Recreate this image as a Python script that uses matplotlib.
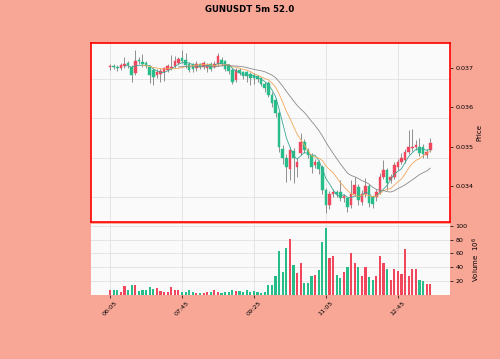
import numpy as np
import pandas as pd
import matplotlib
matplotlib.use('Agg')
import matplotlib.pyplot as plt

# 5m candles, 06:05 .. 13:30
opens = [0.03704, 0.03706, 0.03704, 0.03702, 0.03705, 0.03714, 0.03704, 0.03688, 0.03722, 0.03716,
         0.03714, 0.03703, 0.03696, 0.03684, 0.03686, 0.03690, 0.03696, 0.03700, 0.03706, 0.03714,
         0.03726, 0.03722, 0.03712, 0.03710, 0.03700, 0.03710, 0.03703, 0.03702, 0.03710, 0.03704,
         0.03711, 0.03722, 0.03719, 0.03708, 0.03696, 0.03670, 0.03696, 0.03690, 0.03690, 0.03685,
         0.03683, 0.03680, 0.03675, 0.03660, 0.03662, 0.03632, 0.03618, 0.03586, 0.03495, 0.03470,
         0.03444, 0.03490, 0.03448, 0.03483, 0.03511, 0.03491, 0.03478, 0.03453, 0.03461, 0.03448,
         0.03389, 0.03350, 0.03380, 0.03384, 0.03384, 0.03368, 0.03368, 0.03350, 0.03380, 0.03397,
         0.03358, 0.03378, 0.03398, 0.03370, 0.03372, 0.03385, 0.03423, 0.03440, 0.03414, 0.03423,
         0.03448, 0.03461, 0.03465, 0.03487, 0.03496, 0.03498, 0.03500, 0.03498, 0.03478, 0.03491]
closes = [0.03706, 0.03704, 0.03702, 0.03708, 0.03712, 0.03708, 0.03683, 0.03719, 0.03718, 0.03711,
          0.03706, 0.03682, 0.03678, 0.03692, 0.03694, 0.03700, 0.03705, 0.03703, 0.03720, 0.03724,
          0.03720, 0.03708, 0.03696, 0.03699, 0.03712, 0.03704, 0.03714, 0.03709, 0.03699, 0.03712,
          0.03731, 0.03712, 0.03699, 0.03694, 0.03665, 0.03696, 0.03688, 0.03680, 0.03680, 0.03675,
          0.03676, 0.03672, 0.03660, 0.03650, 0.03632, 0.03612, 0.03586, 0.03499, 0.03470, 0.03448,
          0.03491, 0.03470, 0.03461, 0.03512, 0.03491, 0.03478, 0.03448, 0.03461, 0.03444, 0.03389,
          0.03350, 0.03380, 0.03384, 0.03380, 0.03368, 0.03374, 0.03346, 0.03380, 0.03402, 0.03363,
          0.03378, 0.03398, 0.03356, 0.03352, 0.03384, 0.03423, 0.03440, 0.03407, 0.03423, 0.03453,
          0.03461, 0.03472, 0.03487, 0.03500, 0.03500, 0.03504, 0.03483, 0.03480, 0.03487, 0.03508]
highs = [0.03712, 0.03710, 0.03708, 0.03714, 0.03728, 0.03720, 0.03708, 0.03746, 0.03730, 0.03738,
         0.03718, 0.03708, 0.03700, 0.03698, 0.03700, 0.03704, 0.03712, 0.03734, 0.03732, 0.03730,
         0.03748, 0.03740, 0.03716, 0.03714, 0.03718, 0.03714, 0.03720, 0.03714, 0.03716, 0.03718,
         0.03740, 0.03728, 0.03722, 0.03712, 0.03700, 0.03700, 0.03700, 0.03694, 0.03694, 0.03690,
         0.03688, 0.03684, 0.03678, 0.03666, 0.03668, 0.03640, 0.03624, 0.03590, 0.03505, 0.03480,
         0.03498, 0.03496, 0.03470, 0.03534, 0.03520, 0.03496, 0.03484, 0.03468, 0.03466, 0.03452,
         0.03394, 0.03386, 0.03392, 0.03390, 0.03414, 0.03380, 0.03372, 0.03414, 0.03422, 0.03404,
         0.03388, 0.03420, 0.03404, 0.03376, 0.03392, 0.03432, 0.03466, 0.03446, 0.03430, 0.03460,
         0.03468, 0.03483, 0.03494, 0.03542, 0.03545, 0.03516, 0.03522, 0.03506, 0.03494, 0.03522]
lows = [0.03696, 0.03698, 0.03694, 0.03696, 0.03700, 0.03700, 0.03665, 0.03684, 0.03712, 0.03704,
        0.03700, 0.03662, 0.03657, 0.03676, 0.03664, 0.03668, 0.03690, 0.03696, 0.03702, 0.03710,
        0.03714, 0.03702, 0.03690, 0.03692, 0.03694, 0.03698, 0.03698, 0.03690, 0.03694, 0.03700,
        0.03706, 0.03706, 0.03694, 0.03686, 0.03660, 0.03664, 0.03684, 0.03672, 0.03666, 0.03657,
        0.03660, 0.03666, 0.03654, 0.03640, 0.03626, 0.03600, 0.03576, 0.03486, 0.03455, 0.03410,
        0.03415, 0.03407, 0.03422, 0.03478, 0.03484, 0.03470, 0.03432, 0.03446, 0.03430, 0.03380,
        0.03330, 0.03340, 0.03372, 0.03370, 0.03362, 0.03358, 0.03333, 0.03342, 0.03374, 0.03350,
        0.03350, 0.03372, 0.03345, 0.03343, 0.03362, 0.03380, 0.03418, 0.03389, 0.03408, 0.03418,
        0.03440, 0.03455, 0.03458, 0.03480, 0.03490, 0.03492, 0.03476, 0.03472, 0.03470, 0.03486]
# volume in 10^6
volumes = [7, 7, 7, 4, 13, 8, 14, 15, 6, 8,
           7, 11, 9, 10, 6, 5, 5, 12, 8, 7,
           5, 4, 8, 4, 3, 3, 3, 4, 4, 7,
           5, 3, 4, 5, 7, 6, 6, 5, 7, 4,
           6, 4, 3, 4, 14, 15, 27, 63, 34, 68,
           81, 44, 32, 47, 17, 17, 28, 29, 36, 77,
           97, 54, 56, 29, 25, 34, 40, 61, 47, 41,
           28, 40, 26, 22, 27, 56, 47, 38, 22, 37,
           35, 31, 67, 28, 37, 38, 22, 20, 16, 16]

tick_labels = ['06:05', '07:45', '09:25', '11:05', '12:45']
title = 'GUNUSDT 5m 52.0'

up_color = '#f0475d'
down_color = '#26bd88'
bg = '#f8a797'
fs = 4.6

o = np.array(opens)
c = np.array(closes)
x = np.arange(len(c))
cols = [up_color if cc >= oo else down_color for oo, cc in zip(o, c)]

close_s = pd.Series(c)
ma5 = close_s.rolling(5).mean()
ma10 = close_s.rolling(10).mean()
ma20 = close_s.rolling(20).mean()

fig = plt.figure(figsize=(5.0, 3.59), dpi=100, facecolor=bg)
rect = [0.182, 0.3816, 0.718, 0.4984]
# background axes only for the (offset) horizontal grid
axg = fig.add_axes(rect, zorder=0)
ax = fig.add_axes(rect, zorder=1)
axv = fig.add_axes([0.182, 0.178, 0.718, 0.198], sharex=ax)

ylo, yhi = 0.033072, 0.037647

axg.set_facecolor('#fafafa')
axg.set_ylim(ylo + 0.00028, yhi + 0.00028)
axg.set_yticks([0.034, 0.035, 0.036, 0.037])
axg.set_xticks([])
axg.tick_params(axis='y', left=False, labelleft=False)
axg.grid(True, axis='y', color='#dddddd', linewidth=0.5)
for sp in axg.spines.values():
    sp.set_visible(False)

ax.patch.set_visible(False)
ax.vlines(x, lows, highs, color='#737373', linewidth=0.55, zorder=2)
ax.bar(x, c - o, bottom=o, width=0.72, color=cols, edgecolor=cols, linewidth=0.3, zorder=3)
ax.plot(x, ma5, color='#3aa795', linewidth=0.6, zorder=4)
ax.plot(x, ma10, color='#f2a65a', linewidth=0.6, zorder=4)
ax.plot(x, ma20, color='#8a8a8a', linewidth=0.6, zorder=4)
ax.set_xlim(-5.3, 94.5)
ax.set_ylim(ylo, yhi)
ax.yaxis.tick_right()
ax.yaxis.set_label_position('right')
ax.set_yticks([0.034, 0.035, 0.036, 0.037])
ax.set_yticklabels(['0.034', '0.035', '0.036', '0.037'])
ax.tick_params(axis='y', labelsize=fs, length=2, width=0.5, pad=2)
ax.tick_params(axis='x', labelbottom=False, length=0)
ax.set_ylabel('Price', fontsize=fs + 0.4, labelpad=2)
ax.grid(True, axis='x', color='#dddddd', linewidth=0.5)
for sp in ax.spines.values():
    sp.set_color('#ff0000')
    sp.set_linewidth(1.2)

# volume
axv.set_facecolor('#fafafa')
axv.bar(x, volumes, width=0.6, color=cols, zorder=3)
axv.set_ylim(0, 102.5)
axv.yaxis.tick_right()
axv.yaxis.set_label_position('right')
axv.set_yticks([20, 40, 60, 80, 100])
axv.tick_params(axis='y', labelsize=fs, length=2, width=0.5, pad=2)
axv.set_ylabel('Volume  $10^6$', fontsize=fs + 0.4, labelpad=2)
axv.set_xticks(range(0, len(c), 20))
axv.set_xticklabels(tick_labels, rotation=45, fontsize=fs)
axv.tick_params(axis='x', length=2, width=0.5, pad=2)
axv.grid(True, color='#dddddd', linewidth=0.5)
for sp in axv.spines.values():
    sp.set_visible(False)

fig.suptitle(title, fontsize=6.2, fontweight='bold', y=0.985)

fig.savefig('out.png', dpi=100, facecolor=bg)
